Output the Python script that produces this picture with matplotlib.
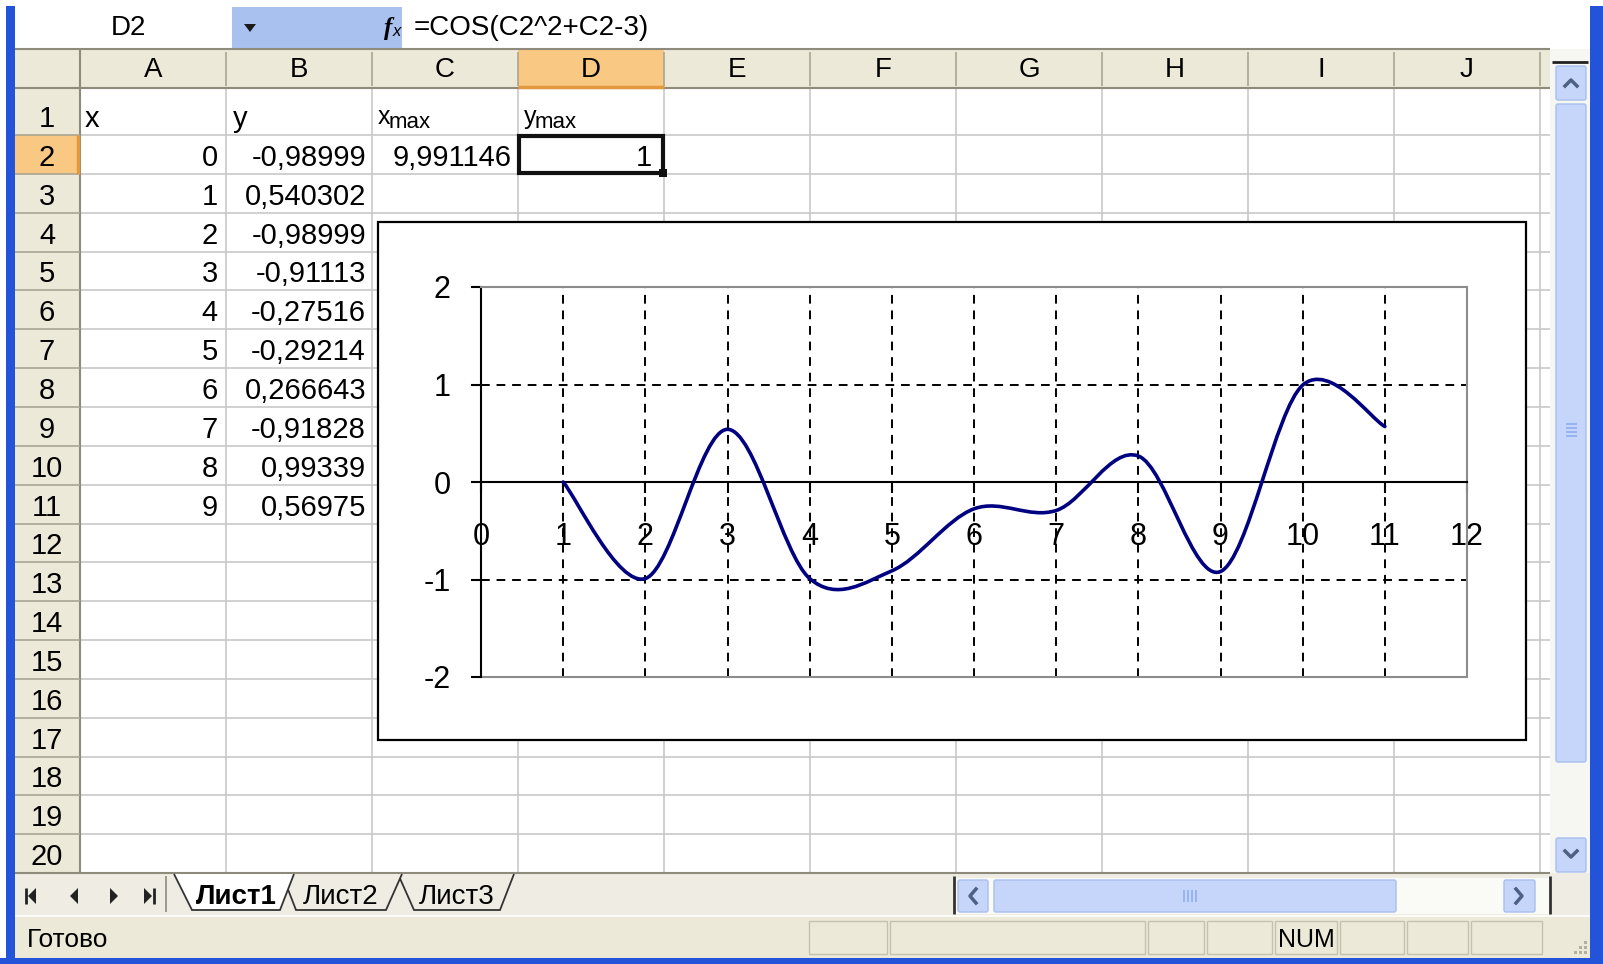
import matplotlib
matplotlib.use("Agg")
import matplotlib.pyplot as plt
from matplotlib.patches import Rectangle, Polygon, PathPatch, FancyBboxPatch
from matplotlib.path import Path

plt.rcParams['font.family'] = ['Liberation Sans', 'DejaVu Sans']
plt.rcParams['axes.unicode_minus'] = False

# worksheet contents
x_col = [0, 1, 2, 3, 4, 5, 6, 7, 8, 9]
y_col = [-0.98999, 0.540302, -0.98999, -0.91113, -0.27516,
         -0.29214, 0.266643, -0.91828, 0.99339, 0.56975]
x_max = "9,991146"
y_max = "1"
formula = "=COS(C2^2+C2-3)"
col_names = list("ABCDEFGHIJ")
sheet_names = ["Лист1", "Лист2", "Лист3"]

# series shown on the chart (x in chart units, y values)
chart_x = [1, 2, 3, 4, 5, 6, 7, 8, 9, 10, 11]
chart_y = [0.0, -0.98999, 0.540302, -0.98999, -0.91113, -0.27516,
           -0.29214, 0.266643, -0.91828, 0.99339, 0.56975]
x_ticks = list(range(0, 13))
y_ticks = [-2, -1, 0, 1, 2]
x_grid = list(range(1, 12))
y_grid = [-1, 1]

W, H = 1603, 964
HDR = '#ECE9D8'
HDR_LINE = '#A9A592'
GRID = '#C8C8C8'
ORANGE = '#F9C882'
XP_BLUE = '#2253D8'
SB_BLUE = '#C6D6FA'
SB_EDGE = '#A8BFEE'
ARROW = '#4D6185'


def rect(x0, y0, x1, y1, fc, ec='none', lw=0.0, z=1):
    ui.add_patch(Rectangle((x0, y0), x1 - x0, y1 - y0, fc=fc, ec=ec, lw=lw, zorder=z))


def line(x0, y0, x1, y1, color, lw=1.0, z=2):
    ui.plot([x0, x1], [y0, y1], color=color, lw=lw, zorder=z, solid_capstyle='butt')


def button(x0, y0, x1, y1, z=3):
    ui.add_patch(FancyBboxPatch((x0 + 2, y0 + 2), x1 - x0 - 4, y1 - y0 - 4,
                                boxstyle="round,pad=2", fc=SB_BLUE, ec=SB_EDGE,
                                lw=1.0, zorder=z))


def smooth_path(xs, ys):
    # Bezier segments with Catmull-Rom control points (Excel-style smoothed line)
    pts = list(zip(xs, ys))
    pts = [pts[0]] + pts + [pts[-1]]
    verts = [pts[1]]
    codes = [Path.MOVETO]
    for i in range(1, len(pts) - 2):
        p0, p1, p2, p3 = pts[i - 1], pts[i], pts[i + 1], pts[i + 2]
        c1 = (p1[0] + (p2[0] - p0[0]) / 6, p1[1] + (p2[1] - p0[1]) / 6)
        c2 = (p2[0] - (p3[0] - p1[0]) / 6, p2[1] - (p3[1] - p1[1]) / 6)
        verts += [c1, c2, p2]
        codes += [Path.CURVE4] * 3
    return Path(verts, codes)


fig = plt.figure(figsize=(W / 100, H / 100), dpi=100)
ui = fig.add_axes([0, 0, 1, 1])
ui.set_xlim(0, W)
ui.set_ylim(H, 0)
ui.axis('off')

# geometry of the sheet
col_edges = [80 + 146 * i for i in range(11)]
row_edges = [88, 135] + [135 + 38.85 * i for i in range(1, 20)]
grid_right = 1550

# window frame
rect(0, 0, W, H, 'white', z=0)
rect(6, 6, 15, H, XP_BLUE, z=5)
rect(1590, 6, W, H, XP_BLUE, z=5)
rect(0, 958, W, H, XP_BLUE, z=5)

# formula bar
rect(232, 7, 402, 48, '#A9C1EF')
ui.text(128, 28, "D2", fontsize=20, ha='center', va='center', zorder=4)
ui.add_patch(Polygon([(244, 24), (256, 24), (250, 32)], closed=True, fc='#1A1A1A', zorder=4))
ui.text(388, 28, "f", fontsize=18, style='italic', fontweight='bold',
        family=['Liberation Serif', 'DejaVu Serif'], ha='center', va='center', zorder=4)
ui.text(397, 31, "x", fontsize=12, style='italic', ha='center', va='center', zorder=4)
ui.text(414, 28, formula, fontsize=20, ha='left', va='center', zorder=4)

# cell area and gridlines
rect(80, 88, grid_right, row_edges[-1], 'white')
for xe in col_edges[1:]:
    line(xe, 88, xe, row_edges[-1], GRID, 1.2)
for ye in row_edges[1:]:
    line(80, ye, grid_right, ye, GRID, 1.2)

# column header
rect(15, 49, grid_right, 88, HDR)
rect(col_edges[3], 49, col_edges[4], 88, ORANGE, z=1.5)
line(15, 49, grid_right, 49, '#8E8B7D', 1.5)
line(15, 88, grid_right, 88, '#8E8B7D', 1.5)
line(col_edges[3], 87, col_edges[4], 87, '#E3993E', 2.5, z=2.5)
for xe in col_edges:
    line(xe, 52, xe, 86, HDR_LINE, 1.2)
for i, name in enumerate(col_names):
    ui.text((col_edges[i] + col_edges[i + 1]) / 2, 70, name, fontsize=20,
            ha='center', va='center', zorder=4)

# row header
rect(15, 88, 80, row_edges[-1], HDR)
rect(15, row_edges[1], 80, row_edges[2], ORANGE, z=1.5)
line(80, 49, 80, row_edges[-1], '#8E8B7D', 1.5)
line(78, row_edges[1], 78, row_edges[2], '#E3993E', 2.5, z=2.5)
for ye in row_edges[1:]:
    line(15, ye, 80, ye, HDR_LINE, 1.2)
for r in range(20):
    ui.text(47, row_edges[r + 1] - 8, str(r + 1), fontsize=21,
            ha='center', va='baseline', zorder=4)

# cell texts
base1 = row_edges[1] - 8
ui.text(col_edges[0] + 5, base1, "x", fontsize=21, va='baseline', zorder=4)
ui.text(col_edges[1] + 7, base1, "y", fontsize=21, va='baseline', zorder=4)
for ci, sym in [(2, "x"), (3, "y")]:
    ui.text(col_edges[ci] + 6, base1 - 3, sym, fontsize=18, va='baseline', zorder=4)
    ui.text(col_edges[ci] + 17, base1 + 1, "max", fontsize=16, va='baseline', zorder=4)

for i, (xv, yv) in enumerate(zip(x_col, y_col)):
    base = row_edges[i + 2] - 8
    ui.text(col_edges[1] - 8, base, str(xv), fontsize=21, ha='right', va='baseline', zorder=4)
    ui.text(col_edges[2] - 6, base, str(yv).replace('.', ','), fontsize=21,
            ha='right', va='baseline', zorder=4)
ui.text(col_edges[3] - 6, row_edges[2] - 8, x_max, fontsize=21, ha='right', va='baseline', zorder=4)
ui.text(col_edges[4] - 12, row_edges[2] - 8, y_max, fontsize=21, ha='right', va='baseline', zorder=4)

# active cell D2
ui.add_patch(Rectangle((col_edges[3] + 1, row_edges[1] + 1), 146 - 2, row_edges[2] - row_edges[1] - 2,
                       fc='none', ec='#111111', lw=3.0, zorder=6))
rect(col_edges[4] - 5, row_edges[2] - 5, col_edges[4] + 3, row_edges[2] + 3, '#111111', z=6.5)

# vertical scrollbar
rect(grid_right, 49, 1590, row_edges[-1], '#F6F6F2', z=2)
line(1552, 62, 1588, 62, '#222222', 2.0, z=3)
button(1556, 66, 1586, 100)
ui.plot([1565, 1571, 1577], [86, 80, 86], color=ARROW, lw=2.5, zorder=4)
button(1556, 104, 1586, 762)
for gy in [424, 428, 432, 436]:
    line(1566, gy, 1577, gy, '#8EAEF0', 1.2, z=4)
button(1556, 838, 1586, 872)
ui.plot([1565, 1571, 1577], [851, 857, 851], color=ARROW, lw=2.5, zorder=4)

# sheet tab bar
rect(15, row_edges[-1], 1590, 915, '#EFEDE3', z=2)
line(15, row_edges[-1], 1550, row_edges[-1], '#8E8B7D', 1.5, z=3)
nav_y = 896
ui.add_patch(Polygon([(36, nav_y - 8), (36, nav_y + 8), (28, nav_y)], fc='#222222', zorder=4))
line(26, nav_y - 8, 26, nav_y + 8, '#222222', 2.0, z=4)
ui.add_patch(Polygon([(78, nav_y - 8), (78, nav_y + 8), (70, nav_y)], fc='#222222', zorder=4))
ui.add_patch(Polygon([(110, nav_y - 8), (110, nav_y + 8), (118, nav_y)], fc='#222222', zorder=4))
ui.add_patch(Polygon([(144, nav_y - 8), (144, nav_y + 8), (152, nav_y)], fc='#222222', zorder=4))
line(154, nav_y - 8, 154, nav_y + 8, '#222222', 2.0, z=4)
line(166, 876, 166, 912, '#8E8B7D', 1.2, z=3)

tabs = [(174, 192, 280, 294), (282, 296, 386, 402), (398, 414, 500, 514)]
order = [2, 1, 0]
for k in order:
    lt, lb, rb, rt = tabs[k]
    fc = 'white' if k == 0 else '#EFEDE3'
    ui.add_patch(Polygon([(lt, 874), (lb, 910), (rb, 910), (rt, 874)], closed=False,
                         fc=fc, ec='#333333', lw=1.3, zorder=4 + (2 - k) * 0.1))
    ui.text((lb + rb) / 2, 897, sheet_names[k], fontsize=20, ha='center', va='center',
            fontweight='bold' if k == 0 else 'normal', zorder=5)

# horizontal scrollbar
rect(954, 878, 1550, 914, '#FAFAF6', z=3)
line(954, 876, 954, 914, '#333333', 2.0, z=4)
line(1550, 876, 1550, 914, '#333333', 2.0, z=4)
button(958, 880, 988, 912)
ui.plot([976, 970, 976], [889, 896, 903], color=ARROW, lw=2.5, zorder=5)
button(994, 880, 1396, 912)
for gx in [1184, 1188, 1192, 1196]:
    line(gx, 890, gx, 902, '#8EAEF0', 1.2, z=5)
button(1504, 880, 1535, 912)
ui.plot([1516, 1522, 1516], [889, 896, 903], color=ARROW, lw=2.5, zorder=5)

# status bar
rect(15, 915, 1590, 958, HDR, z=2)
line(15, 916, 1590, 916, '#FFFFFF', 1.2, z=3)
ui.text(27, 940, "Готово", fontsize=19, ha='left', va='center', zorder=4)
panels = [808, 889, 1147, 1206, 1274, 1339, 1406, 1470, 1544]
for a, b in zip(panels[:-1], panels[1:]):
    ui.add_patch(Rectangle((a + 1, 921), b - a - 3, 33, fc='none', ec='#C4C1B0', lw=1.0, zorder=3))
ui.text(1306, 940, "NUM", fontsize=18, ha='center', va='center', zorder=4)
for dx, dy in [(0, 0), (-5, 0), (-10, 0), (0, -5), (-5, -5), (0, -10)]:
    rect(1584 + dx, 951 + dy, 1587 + dx, 954 + dy, '#B4B0A0', z=4)

# embedded chart
rect(378, 222, 1526, 740, 'white', ec='black', lw=1.6, z=7)

px_l, px_r, px_t, px_b = 481, 1467, 287, 677
ax = fig.add_axes([px_l / W, 1 - px_b / H, (px_r - px_l) / W, (px_b - px_t) / H], zorder=3)
ax.patch.set_visible(False)
ax.set_xlim(0, 12)
ax.set_ylim(-2, 2)

for gx in x_grid:
    ax.axvline(gx, color='black', lw=1.4, ls=(0, (4.5, 3.5)), zorder=1)
for gy in y_grid:
    ax.axhline(gy, color='black', lw=1.4, ls=(0, (4.5, 3.5)), zorder=1)
ax.axhline(-2, color='#8C8C8C', lw=1.5, clip_on=False, zorder=1)

ax.spines['bottom'].set_position(('data', 0))
ax.spines['bottom'].set_color('black')
ax.spines['bottom'].set_linewidth(1.5)
ax.spines['left'].set_color('black')
ax.spines['left'].set_linewidth(1.5)
for side in ['top', 'right']:
    ax.spines[side].set_color('#8C8C8C')
    ax.spines[side].set_linewidth(1.5)

ax.set_xticks(x_ticks)
ax.set_yticks(y_ticks)
ax.tick_params(axis='x', direction='out', length=8, width=1.5, pad=21,
               labelsize=22, colors='black')
ax.tick_params(axis='y', direction='out', length=7, width=1.5, pad=15,
               labelsize=22, colors='black')

ax.add_patch(PathPatch(smooth_path(chart_x, chart_y), fc='none', ec='#000080',
                       lw=2.6, capstyle='round', joinstyle='round', zorder=3))

fig.savefig("out.png", dpi=100)
